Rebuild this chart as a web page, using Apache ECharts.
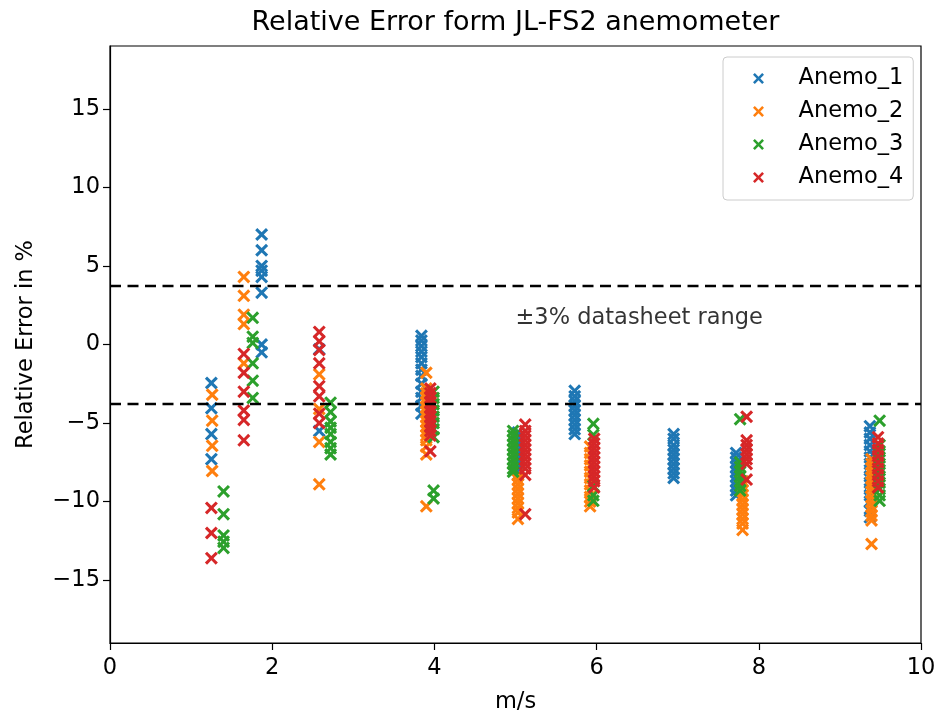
<!DOCTYPE html>
<html>
<head>
<meta charset="utf-8">
<script src="https://cdn.jsdelivr.net/npm/echarts@6/dist/echarts.min.js"></script>
<style>html,body{margin:0;padding:0;background:#fff}#c{width:943px;height:719px}</style>
</head>
<body>
<div id="c"></div>
<script>
// ---- data ----
const seriesNames = ['Anemo_1', 'Anemo_2', 'Anemo_3', 'Anemo_4'];
const seriesColors = ['#1f77b4', '#ff7f0e', '#2ca02c', '#d62728'];

// each entry: [wind speed m/s, [relative errors %]]
const anemo1 = [
  [1.25, [-2.45, -4.05, -5.7, -7.3]],
  [1.87, [7.0, 6.0, 5.0, 4.7, 4.3, 3.3, 0.0, -0.5]],
  [2.58, [-0.3, -5.5]],
  [3.84, [0.55, 0.25, -0.1, -0.45, -0.8, -1.2, -1.6, -2.0, -2.5, -3.0, -3.4, -3.9, -4.4]],
  [5.03, [-5.6, -5.9, -6.2, -6.5, -6.8, -7.1, -7.4, -7.7, -8.0, -8.3]],
  [5.73, [-2.95, -3.3, -3.6, -3.9, -4.2, -4.5, -4.8, -5.1, -5.4, -5.7]],
  [6.95, [-5.7, -6.0, -6.4, -6.7, -7.0, -7.3, -7.6, -7.9, -8.2, -8.5]],
  [7.72, [-6.9, -7.2, -7.5, -7.8, -8.1, -8.4, -8.7, -9.0, -9.3, -9.6]],
  [9.37, [-5.2, -5.6, -6.0, -6.4, -6.8, -7.2, -7.6, -8.0, -8.4, -8.8, -9.2, -9.6, -10.0, -10.6, -11.0]]
];
const anemo2 = [
  [1.26, [-3.2, -4.85, -6.45, -8.05]],
  [1.65, [4.3, 3.1, 1.9, 1.3, -1.2]],
  [2.58, [-1.9, -4.1, -6.2, -8.9]],
  [3.90, [-1.8, -2.8, -3.1, -3.4, -3.7, -4.0, -4.3, -4.6, -4.9, -5.2, -5.5, -5.8, -6.1, -6.5, -7.0, -10.3]],
  [5.03, [-8.3, -8.6, -8.9, -9.2, -9.5, -9.8, -10.1, -10.4, -10.7, -11.1]],
  [5.92, [-6.5, -6.9, -7.3, -7.7, -8.1, -8.5, -8.9, -9.3, -9.7, -10.0, -10.3]],
  [7.80, [-8.7, -9.0, -9.3, -9.6, -9.9, -10.2, -10.5, -10.8, -11.1, -11.4, -11.8]],
  [9.39, [-7.3, -7.6, -7.9, -8.2, -8.5, -8.8, -9.1, -9.4, -9.7, -10.0, -10.3, -10.6, -10.9, -11.2, -12.7]]
];
const anemo3 = [
  [1.40, [-9.35, -10.8, -12.15, -12.55, -12.95]],
  [1.76, [1.7, 0.5, 0.1, -1.2, -2.3, -3.4]],
  [2.72, [-3.7, -4.3, -4.9, -5.3, -5.7, -6.2, -6.6, -7.0]],
  [3.99, [-3.0, -3.4, -3.8, -4.2, -4.6, -5.0, -5.4, -5.9, -9.3, -9.8]],
  [4.97, [-5.5, -5.8, -6.1, -6.4, -6.7, -7.0, -7.3, -7.6, -7.9, -8.1]],
  [5.96, [-5.05, -5.75, -9.0, -9.6, -9.95]],
  [7.77, [-4.75, -7.5, -7.8, -8.1, -8.4, -8.7, -9.0, -9.3]],
  [9.49, [-4.85, -6.4, -6.8, -7.2, -7.6, -8.0, -8.4, -8.8, -9.2, -9.6, -9.95]]
];
const anemo4 = [
  [1.25, [-10.4, -12.0, -13.6]],
  [1.65, [-0.6, -1.8, -3.0, -4.2, -4.8, -6.1]],
  [2.58, [0.8, 0.2, -0.35, -1.2, -2.65, -3.3, -4.4, -5.0]],
  [3.95, [-2.8, -3.1, -3.4, -3.7, -4.0, -4.3, -4.6, -4.9, -5.2, -5.5, -5.8, -6.8]],
  [5.12, [-5.1, -5.5, -5.8, -6.1, -6.4, -6.7, -7.0, -7.3, -7.6, -7.9, -8.3, -10.8]],
  [5.97, [-6.0, -6.3, -6.6, -6.9, -7.2, -7.5, -7.8, -8.1, -8.4, -8.7, -9.1]],
  [7.85, [-4.6, -6.1, -6.4, -6.7, -7.0, -7.3, -7.6, -8.6]],
  [9.47, [-5.9, -6.3, -6.7, -7.1, -7.5, -7.9, -8.3, -8.7, -9.1]]
];
const allAnemo = [anemo1, anemo2, anemo3, anemo4];

const rangeLimit = 3.75;           // dashed datasheet band
const annotationText = '\u00b13% datasheet range';
const annotationPos = [5.0, 1.65];
const yTicks = [-15, -10, -5, 0, 5, 10, 15];
const xTicks = [0, 2, 4, 6, 8, 10];

// ---- build ----
const FONT = 'DejaVu Sans';
const FS = 22.5;
const X_SYMBOL = 'path://M0,2L2,0L6,4L10,0L12,2L8,6L12,10L10,12L6,8L2,12L0,10L4,6Z';

function flatten(groups) {
  const out = [];
  groups.forEach(g => g[1].forEach(v => out.push([g[0], v])));
  return out;
}
const minusFmt = v => String(v).replace('-', '\u2212');

const series = allAnemo.map((g, i) => ({
  name: seriesNames[i],
  type: 'scatter',
  data: flatten(g),
  symbol: X_SYMBOL,
  symbolSize: 13,
  itemStyle: { color: seriesColors[i], opacity: 1 },
  emphasis: { disabled: true },
  z: 2 + i
}));

series.push({
  name: 'band',
  type: 'scatter',
  data: [],
  silent: true,
  z: 10,
  markLine: {
    silent: true,
    symbol: ['none', 'none'],
    label: { show: false },
    lineStyle: { color: '#000', width: 2.4, type: [11, 6.5], opacity: 1 },
    emphasis: { disabled: true },
    data: [{ yAxis: rangeLimit }, { yAxis: -rangeLimit }],
    z: 10
  }
});

series.push({
  name: 'annot',
  type: 'scatter',
  data: [annotationPos],
  symbolSize: 0,
  silent: true,
  z: 11,
  label: {
    show: true,
    position: 'right',
    distance: 0,
    formatter: annotationText,
    color: '#000',
    fontFamily: FONT,
    fontSize: FS
  }
});

const chart = echarts.init(document.getElementById('c'), null, { renderer: 'canvas' });
chart.setOption({
  animation: false,
  backgroundColor: '#fff',
  title: {
    text: 'Relative Error form JL-FS2 anemometer',
    left: 515.5,
    top: 9,
    padding: 0,
    textAlign: 'center',
    textStyle: { fontFamily: FONT, fontSize: 27, fontWeight: 'normal', color: '#000' }
  },
  legend: {
    data: seriesNames,
    orient: 'vertical',
    left: 723,
    top: 57,
    padding: [10, 10, 11, 30],
    itemWidth: 58,
    itemHeight: 11,
    itemGap: 10,
    backgroundColor: 'rgba(255,255,255,0.8)',
    borderColor: '#cccccc',
    borderWidth: 1,
    borderRadius: 4,
    textStyle: { fontFamily: FONT, fontSize: FS, color: '#000', lineHeight: 23, padding: [0, 0, 0, 6] }
  },
  grid: {
    left: 110, right: 22, top: 46, bottom: 68,
    show: true, borderColor: '#000', borderWidth: 1.2, backgroundColor: 'transparent'
  },
  xAxis: {
    type: 'value',
    min: 0, max: 10, interval: 2,
    name: 'm/s',
    nameLocation: 'middle',
    nameGap: 48,
    nameTextStyle: { fontFamily: FONT, fontSize: FS, color: '#000' },
    axisLine: { show: true, onZero: false, lineStyle: { color: '#000', width: 1.2 } },
    axisTick: { show: true, inside: false, length: 7, lineStyle: { color: '#000', width: 1.2 } },
    axisLabel: { margin: 14, fontFamily: FONT, fontSize: FS, color: '#000', formatter: minusFmt },
    splitLine: { show: false }
  },
  yAxis: {
    type: 'value',
    min: -19, max: 19,
    name: 'Relative Error in %',
    nameLocation: 'middle',
    nameGap: 72,
    nameTextStyle: { fontFamily: FONT, fontSize: FS, color: '#000' },
    axisLine: { show: true, onZero: false, lineStyle: { color: '#000', width: 1.2 } },
    axisTick: { show: true, inside: false, length: 7, customValues: yTicks, lineStyle: { color: '#000', width: 1.2 } },
    axisLabel: { margin: 10, fontFamily: FONT, fontSize: FS, color: '#000', customValues: yTicks, formatter: minusFmt },
    splitLine: { show: false }
  },
  series: series
});
</script>
</body>
</html>
